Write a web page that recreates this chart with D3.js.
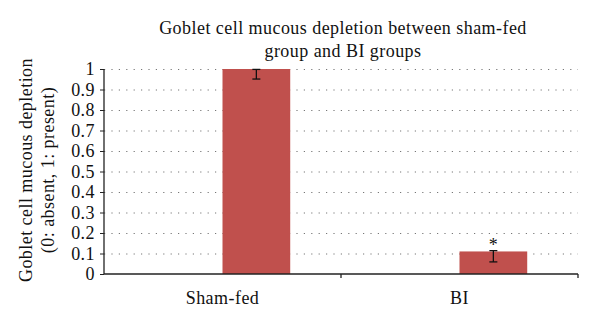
<!DOCTYPE html>
<html>
<head>
<meta charset="utf-8">
<script src="https://cdn.jsdelivr.net/npm/d3@7"></script>
<style>
  html, body { margin: 0; padding: 0; background: #fff; }
  svg { display: block; }
  text { font-family: "Liberation Serif", "Times New Roman", serif; fill: #111; }
</style>
</head>
<body>
<svg id="chart" width="600" height="323"></svg>
<script>
// Groups and their mean depletion score
const categories = ["Sham-fed", "BI"];
const values = [1.0, 0.11];
// Error bar extents
const errLow = [0.951, 0.059];
const errHigh = [0.998, 0.114];
// Significance markers
const marks = ["", "*"];
const yTicks = [0, 0.1, 0.2, 0.3, 0.4, 0.5, 0.6, 0.7, 0.8, 0.9, 1];
const titleLines = ["Goblet cell mucous depletion between sham-fed", "group and BI groups"];
const yLabelLines = ["Goblet cell mucous depletion", "(0: absent, 1: present)"];

const FONT = "Liberation Serif";
const FS = 18;
const LS = "0.45px";
const svg = d3.select("#chart");
const margin = { left: 104, right: 22, top: 69, bottom: 49 };
const W = 600, H = 323;
const plotW = W - margin.left - margin.right;
const plotH = H - margin.top - margin.bottom;

const g = svg.append("g").attr("transform", `translate(${margin.left},${margin.top})`);

const x = d3.scaleBand().domain(categories).range([0, plotW]).paddingInner(0).paddingOuter(0);
// each category holds two slots; the bar sits in the second one
const slot = d3.scaleBand().domain(["a", "b"]).range([0, x.bandwidth()]).paddingInner(0).paddingOuter(0.75);
const y = d3.scaleLinear().domain([0, 1]).range([plotH, 0]);

// dotted horizontal gridlines
g.append("g").selectAll("line").data(yTicks.filter(d => d > 0)).join("line")
  .attr("x1", 0).attr("x2", plotW)
  .attr("y1", d => y(d) + 0.5).attr("y2", d => y(d) + 0.5)
  .attr("stroke", "#777").attr("stroke-width", 1.2)
  .attr("stroke-dasharray", "1.2,6.2");

// bars
g.append("g").selectAll("rect").data(values).join("rect")
  .attr("x", (d, i) => x(categories[i]) + slot("b"))
  .attr("width", slot.bandwidth())
  .attr("y", d => y(d))
  .attr("height", d => y(0) - y(d))
  .attr("fill", "#C0504D");

// error bars
const eb = g.append("g").attr("stroke", "#111").attr("stroke-width", 1.3);
values.forEach((v, i) => {
  const cx = x(categories[i]) + slot("b") + slot.bandwidth() / 2;
  eb.append("line").attr("x1", cx).attr("x2", cx).attr("y1", y(errHigh[i])).attr("y2", y(errLow[i]));
  eb.append("line").attr("x1", cx - 4).attr("x2", cx + 4).attr("y1", y(errHigh[i])).attr("y2", y(errHigh[i]));
  eb.append("line").attr("x1", cx - 4).attr("x2", cx + 4).attr("y1", y(errLow[i])).attr("y2", y(errLow[i]));
});

// significance markers
g.append("g").selectAll("text").data(marks).join("text")
  .attr("x", (d, i) => x(categories[i]) + slot("b") + slot.bandwidth() / 2)
  .attr("y", (d, i) => y(errHigh[i]))
  .attr("text-anchor", "middle")
  .attr("font-size", FS)
  .text(d => d);

// y axis
const yAxis = g.append("g")
  .call(d3.axisLeft(y).tickValues(yTicks).tickSize(4).tickPadding(5).tickFormat(d3.format("~g")));
yAxis.select(".domain").attr("stroke", "#222").attr("stroke-width", 1.3).attr("d", `M0,${plotH}V0`);
yAxis.selectAll(".tick line").attr("stroke", "#222");
yAxis.selectAll("text").attr("font-size", FS).attr("font-family", FONT).attr("fill", "#111")
  .style("letter-spacing", LS);

// x axis
const xAxis = g.append("g").attr("transform", `translate(0,${plotH})`);
xAxis.append("line").attr("x1", 0).attr("x2", plotW).attr("y1", 0).attr("y2", 0)
  .attr("stroke", "#222").attr("stroke-width", 1.5);
xAxis.selectAll("line.sep").data([...categories.map(c => x(c) + x.bandwidth())]).join("line")
  .attr("class", "sep")
  .attr("x1", d => d).attr("x2", d => d).attr("y1", 0).attr("y2", 4)
  .attr("stroke", "#222").attr("stroke-width", 1.3);
xAxis.selectAll("text").data(categories).join("text")
  .attr("x", d => x(d) + x.bandwidth() / 2)
  .attr("y", 30)
  .attr("text-anchor", "middle")
  .attr("font-size", FS)
  .style("letter-spacing", LS)
  .text(d => d);

// title
svg.append("g").selectAll("text").data(titleLines).join("text")
  .attr("x", 343)
  .attr("y", (d, i) => 34 + i * 23)
  .attr("text-anchor", "middle")
  .attr("font-size", FS)
  .style("letter-spacing", LS)
  .text(d => d);

// y label
svg.append("g").attr("transform", "translate(0,170) rotate(-90)")
  .selectAll("text").data(yLabelLines).join("text")
  .attr("x", 0)
  .attr("y", (d, i) => 32 + i * 22)
  .attr("text-anchor", "middle")
  .attr("font-size", FS)
  .style("letter-spacing", LS)
  .text(d => d);
</script>
</body>
</html>
